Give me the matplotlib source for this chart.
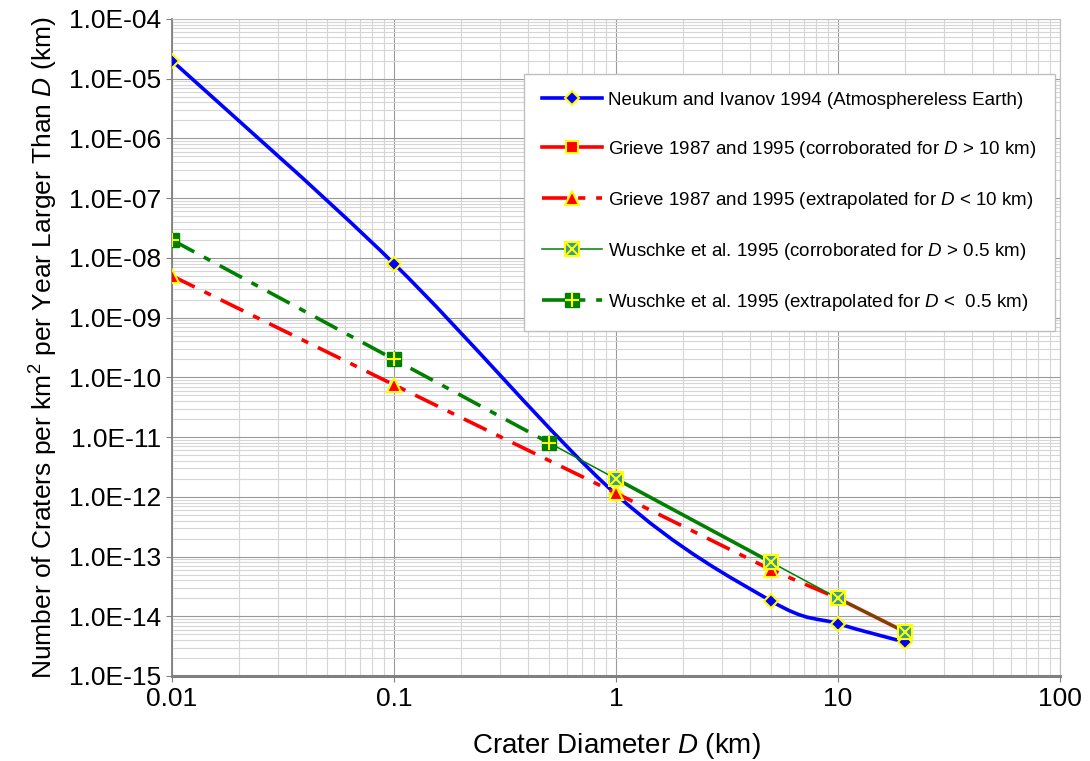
import numpy as np
import matplotlib
matplotlib.use("Agg")
import matplotlib.pyplot as plt
from matplotlib.lines import Line2D
from matplotlib.path import Path
from matplotlib.patches import PathPatch
from matplotlib.legend_handler import HandlerTuple
from matplotlib.ticker import LogLocator, FuncFormatter, NullFormatter

plt.rcParams['font.family'] = ['Liberation Sans', 'DejaVu Sans']
plt.rcParams['mathtext.fontset'] = 'custom'
plt.rcParams['mathtext.rm'] = 'Liberation Sans'
plt.rcParams['mathtext.it'] = 'Liberation Sans:italic'

# данные
neukum_d = [0.01, 0.1, 1, 5, 10, 20]
neukum_n = [2e-5, 8e-9, 1.1e-12, 1.8e-14, 7.5e-15, 3.7e-15]

grieve_cor_d = [10, 20]
grieve_cor_n = [2e-14, 5.5e-15]
grieve_ext_d = [0.01, 0.1, 1, 5, 10]
grieve_ext_n = [5e-9, 7.5e-11, 1.15e-12, 6e-14, 2e-14]

wuschke_cor_d = [0.5, 1, 5, 10, 20]
wuschke_cor_n = [8e-12, 2e-12, 8e-14, 2e-14, 5.5e-15]
wuschke_ext_d = [0.01, 0.1, 0.5]
wuschke_ext_n = [2e-8, 2e-10, 8e-12]

labels = [
    "Neukum and Ivanov 1994 (Atmosphereless Earth)",
    "Grieve 1987 and 1995 (corroborated for $D$ > 10 km)",
    "Grieve 1987 and 1995 (extrapolated for $D$ < 10 km)",
    "Wuschke et al. 1995 (corroborated for $D$ > 0.5 km)",
    "Wuschke et al. 1995 (extrapolated for $D$ <  0.5 km)",
]

BLUE, RED, GREEN, YEL, TEAL = "#0000FF", "#FF0000", "#008000", "#FFFF00", "#339999"
dashdot = (0, (7, 3, 2, 3))

fig = plt.figure(figsize=(10.9, 7.61), dpi=100)
ax = fig.add_axes([172 / 1090, 1 - 676 / 761, (1060 - 172) / 1090, (676 - 19) / 761])
ax.set_xscale("log")
ax.set_yscale("log")
ax.set_xlim(0.01, 100)
ax.set_ylim(1e-15, 1e-4)

# сглаженная кривая (как "smoothed line" в Excel)
P = np.column_stack([np.log10(neukum_d), np.log10(neukum_n)])
verts = [P[0]]
codes = [Path.MOVETO]
n = len(P)
for i in range(n - 1):
    p0, p1, p2, p3 = P[max(i - 1, 0)], P[i], P[i + 1], P[min(i + 2, n - 1)]
    verts += [p1 + (p2 - p0) / 6, p2 - (p3 - p1) / 6, p2]
    codes += [Path.CURVE4] * 3
path = Path(10 ** np.array(verts), codes)
ax.add_patch(PathPatch(path, transform=ax.transData, fill=False, ec=BLUE, lw=2.6, zorder=3))
ax.plot(neukum_d, neukum_n, ls="none", marker="D", ms=7.5, mfc=BLUE, mec=YEL, mew=1.5, zorder=4)

# Grieve
ax.plot(grieve_cor_d, grieve_cor_n, color=RED, lw=2.6, marker="s", ms=8, mfc=RED, mec=YEL, mew=1.5, zorder=5)
ax.plot(grieve_ext_d, grieve_ext_n, color=RED, lw=2.6, ls=dashdot, marker="^", ms=10, mfc=RED, mec=YEL, mew=1.5, zorder=5)

# Wuschke
ax.plot(wuschke_cor_d, wuschke_cor_n, color=GREEN, lw=1.1, zorder=6)
ax.plot(wuschke_cor_d[1:3], wuschke_cor_n[1:3], color=GREEN, lw=2.6, zorder=6)
ax.plot(wuschke_cor_d[1:], wuschke_cor_n[1:], ls="none", marker="s", ms=10, mfc=TEAL, mec=YEL, mew=1.5, zorder=7)
ax.plot(wuschke_cor_d[1:], wuschke_cor_n[1:], ls="none", marker="x", ms=8, mec=YEL, mew=1.5, zorder=8)
ax.plot(wuschke_ext_d, wuschke_ext_n, color=GREEN, lw=2.6, ls=dashdot, zorder=6)
ax.plot(wuschke_ext_d, wuschke_ext_n, ls="none", marker="s", ms=10, mfc=GREEN, mec=GREEN, zorder=7)
ax.plot(wuschke_ext_d, wuschke_ext_n, ls="none", marker="+", ms=10, mec=YEL, mew=1.5, zorder=8)

# оси и сетка
ax.xaxis.set_major_locator(LogLocator(base=10, numticks=10))
ax.xaxis.set_minor_locator(LogLocator(base=10, subs=np.arange(2, 10), numticks=100))
ax.yaxis.set_major_locator(LogLocator(base=10, numticks=20))
ax.yaxis.set_minor_locator(LogLocator(base=10, subs=np.arange(2, 10), numticks=200))
ax.xaxis.set_major_formatter(FuncFormatter(lambda v, p: f"{v:g}"))
ax.yaxis.set_major_formatter(FuncFormatter(lambda v, p: f"{v:.1E}"))
ax.xaxis.set_minor_formatter(NullFormatter())
ax.yaxis.set_minor_formatter(NullFormatter())
ax.grid(True, which="major", color="#9A9A9A", lw=0.8)
ax.grid(True, which="minor", color="#D6D6D6", lw=0.8)
ax.set_axisbelow(True)
ax.tick_params(which="major", length=4, color="#808080", labelsize=19, pad=4)
ax.tick_params(which="minor", length=0)

for s in ["top", "right"]:
    ax.spines[s].set_color("#C0C0C0")
    ax.spines[s].set_linewidth(0.8)
ax.spines["left"].set_color("#808080")
ax.spines["left"].set_linewidth(1.3)
ax.spines["bottom"].set_color("#808080")
ax.spines["bottom"].set_linewidth(2.2)

ax.set_xlabel("Crater Diameter $D$ (km)", fontsize=20, labelpad=14)
ax.set_ylabel("Number of Craters per km$^2$ per Year Larger Than $D$ (km)", fontsize=19, labelpad=6)

# легенда
h1 = Line2D([], [], color=BLUE, lw=2.6, marker="D", ms=7.5, mfc=BLUE, mec=YEL, mew=1.5)
h2 = Line2D([], [], color=RED, lw=2.6, marker="s", ms=8, mfc=RED, mec=YEL, mew=1.5)
h3 = Line2D([], [], color=RED, lw=2.6, ls=dashdot, marker="^", ms=10, mfc=RED, mec=YEL, mew=1.5)
h4 = (Line2D([], [], color=GREEN, lw=1.1, marker="s", ms=10, mfc=TEAL, mec=YEL, mew=1.5),
      Line2D([], [], ls="none", marker="x", ms=8, mec=YEL, mew=1.5))
h5 = (Line2D([], [], color=GREEN, lw=2.6, ls=dashdot, marker="s", ms=10, mfc=GREEN, mec=GREEN),
      Line2D([], [], ls="none", marker="+", ms=10, mec=YEL, mew=1.5))
leg = ax.legend([h1, h2, h3, h4, h5], labels, loc="upper left",
                bbox_to_anchor=(524 / 1090, 1 - 74 / 761), bbox_transform=fig.transFigure,
                borderaxespad=0, fontsize=13.5, frameon=True, fancybox=False, framealpha=1,
                edgecolor="#BFBFBF", borderpad=0.95, handlelength=3.2, handletextpad=0.35,
                labelspacing=1.6, handler_map={tuple: HandlerTuple(ndivide=1)})
leg.get_frame().set_linewidth(1.0)
leg.set_zorder(10)

fig.savefig("out.png", dpi=100)
